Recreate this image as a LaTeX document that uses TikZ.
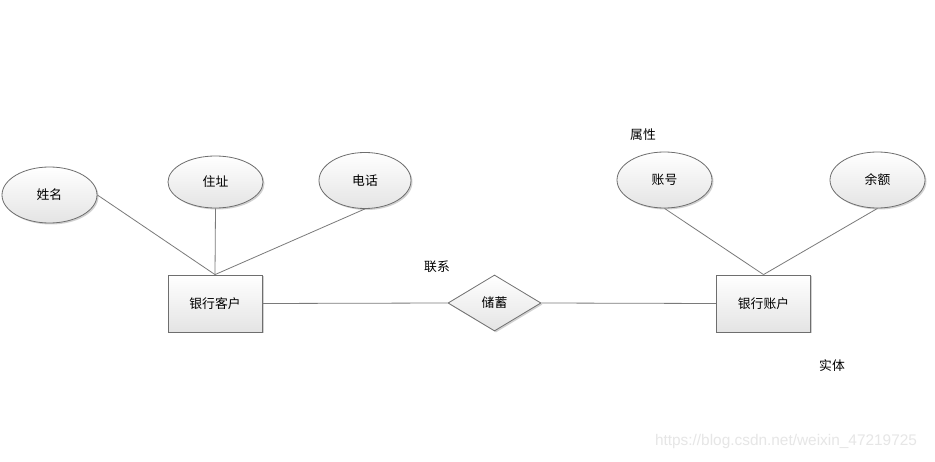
\documentclass[tikz,border=0pt]{standalone}
\usepackage{fontspec}
\setmainfont{Liberation Sans}
\newfontfamily\cjk{Noto Sans CJK SC}
\usetikzlibrary{shapes.geometric,shadows}
\definecolor{edgegray}{HTML}{7A7A7A}
\definecolor{bordergray}{HTML}{6E6E6E}
\definecolor{fillbot}{HTML}{E4E4E4}
\definecolor{wmgray}{HTML}{E6E6E6}
\tikzset{
  x=1pt, y=-1pt,
  every node/.style={font=\cjk\fontsize{12.8}{14}\selectfont, text=black},
  shapebase/.style={draw=bordergray, line width=0.8pt, top color=white, bottom color=fillbot,
    drop shadow={shadow xshift=1.5pt, shadow yshift=-1.5pt, opacity=0.18, fill=black}},
  attr/.style={shapebase, ellipse, minimum width=95pt, minimum height=56pt, inner sep=0pt},
  entity/.style={shapebase, rectangle, minimum width=94pt, minimum height=57pt, inner sep=0pt},
  rel/.style={shapebase, diamond, minimum width=93pt, minimum height=56pt, inner sep=0pt, aspect=1.66},
  conn/.style={draw=edgegray, line width=0.8pt},
  note/.style={inner sep=0pt},
}
\begin{document}
\begin{tikzpicture}
\useasboundingbox[fill=white] (0,0) rectangle (935,462);
\node[entity] (cust) at (215,303.5) {银行客户};
\node[entity] (acct) at (763.5,303.5) {银行账户};
\node[rel] (save) at (494.5,303) {储蓄};
\node[attr] (name) at (49.5,195) {姓名};
\node[attr, minimum height=52pt] (addr) at (215.5,182) {住址};
\node[attr, minimum width=92pt] (tel) at (365,180.5) {电话};
\node[attr] (accno) at (664.5,180) {账号};
\node[attr] (bal) at (877.5,180) {余额};
\draw[conn] (cust.north) -- (name.east);
\draw[conn] (cust.north) -- (addr.south);
\draw[conn] (cust.north) -- (tel.south);
\draw[conn] (cust.east) -- (save.west);
\draw[conn] (save.east) -- (acct.west);
\draw[conn] (acct.north) -- (accno.south);
\draw[conn] (acct.north) -- (bal.south);
\node[note] (lbl1) at (643,135) {属性};
\node[note] (lbl2) at (437,267) {联系};
\node[note] (lbl3) at (832,366) {实体};
\node[note, font=\fontsize{15.4}{17}\selectfont, text=wmgray] (wm) at (786,442) {https://blog.csdn.net/weixin\_47219725};
\end{tikzpicture}
\end{document}
